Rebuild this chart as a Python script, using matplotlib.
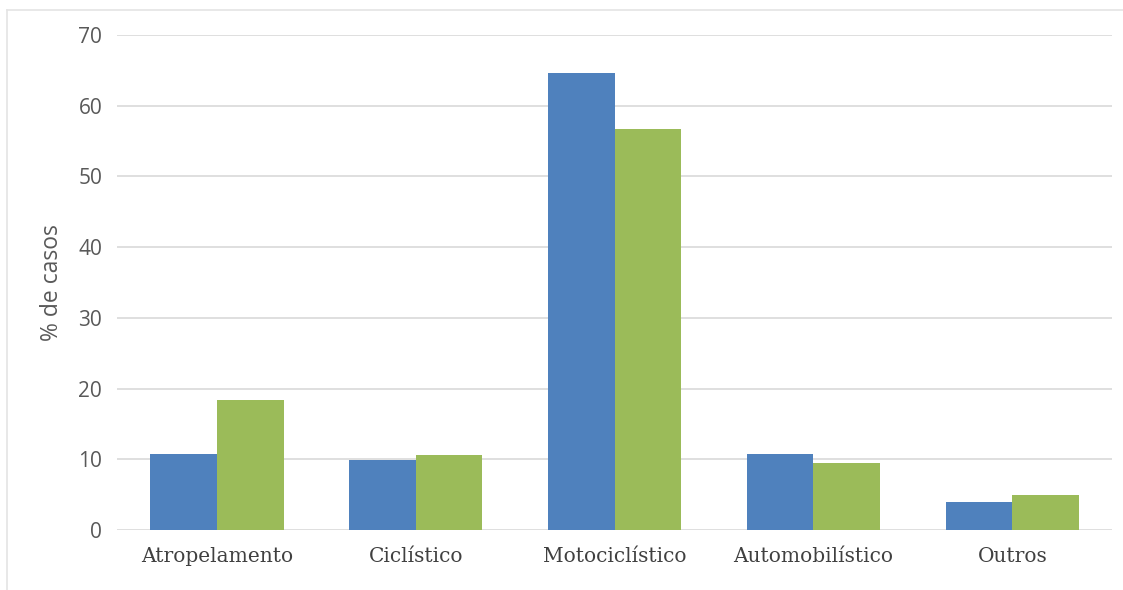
import numpy as np
import matplotlib
matplotlib.use("Agg")
import matplotlib.pyplot as plt
from matplotlib.lines import Line2D

categories = ['Atropelamento', 'Ciclístico', 'Motociclístico', 'Automobilístico', 'Outros']
serie_a = [10.8, 9.9, 64.6, 10.8, 4.0]
serie_b = [18.4, 10.6, 56.7, 9.5, 4.9]
yticks = [0, 10, 20, 30, 40, 50, 60, 70]

fig = plt.figure(figsize=(11.23, 5.90), dpi=100)
ax = fig.add_axes([0.1046, 0.1017, 0.8854, 0.839])

x = np.arange(len(categories))
w = 0.335
ax.bar(x - w/2, serie_a, w, color='#4F81BD', zorder=3)
ax.bar(x + w/2, serie_b, w, color='#9BBB59', zorder=3)

ax.set_xlim(-0.5, len(categories) - 0.5)
ax.set_ylim(0, 70)
ax.set_yticks(yticks)
ax.set_yticklabels([str(v) for v in yticks], family='Open Sans', fontsize=15)
ax.yaxis.grid(True, color='#D9D9D9', linewidth=1.2, zorder=0)
ax.set_axisbelow(True)
for s in ax.spines.values():
    s.set_visible(False)
ax.tick_params(length=0)
ax.tick_params(axis='y', pad=11, labelcolor='#595959')
ax.tick_params(axis='x', pad=12, labelcolor='#404040')
ax.set_xticks(x)
ax.set_xticklabels(categories, family='DejaVu Serif', fontsize=14.5)
ax.set_ylabel('% de casos', family='Open Sans', fontsize=16.5, color='#595959', labelpad=10)

# light frame around the chart area
fig.add_artist(Line2D([7/1123, 7/1123], [0, 1 - 10/590], color='#E4E4E4', lw=1.2))
fig.add_artist(Line2D([7/1123, 1], [1 - 10/590, 1 - 10/590], color='#E4E4E4', lw=1.2))

fig.savefig("out.png", dpi=100)
